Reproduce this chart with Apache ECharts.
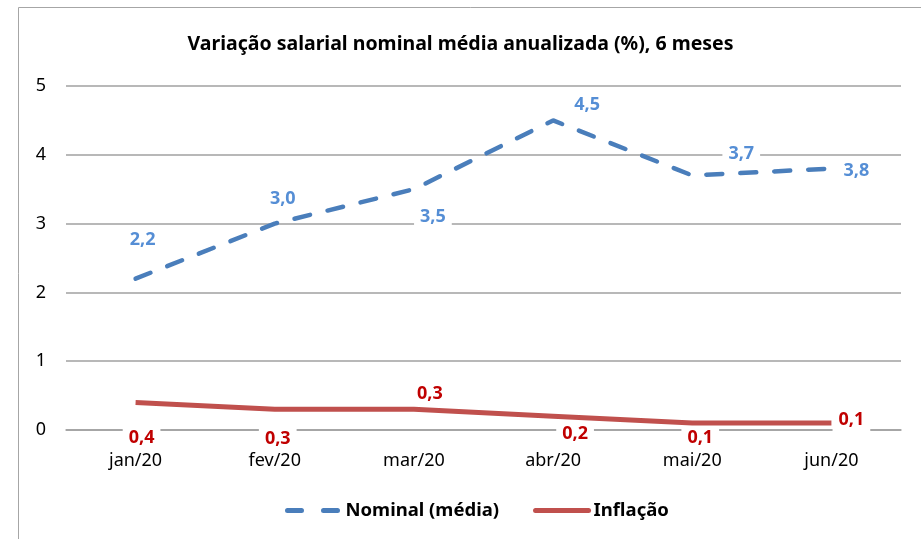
<!DOCTYPE html>
<html>
<head>
<meta charset="utf-8">
<script src="https://cdn.jsdelivr.net/npm/echarts@6/dist/echarts.min.js"></script>
<style>
  html, body { margin: 0; padding: 0; background: #fff; }
  #chart { width: 921px; height: 539px; }
</style>
</head>
<body>
<div id="chart"></div>
<script>
// dados
const meses = ['jan/20', 'fev/20', 'mar/20', 'abr/20', 'mai/20', 'jun/20']
const nominal = [2.2, 3.0, 3.5, 4.5, 3.7, 3.8]
const inflacao = [0.4, 0.3, 0.3, 0.2, 0.1, 0.1]

// deslocamento dos rótulos (px) em relação ao ponto
const offNominal = [[7, -39], [8, -25], [19, 28], [34, -16], [49, -22], [25, 2]]
const offInflacao = [[6, 35], [3, 30], [16, -15], [22, 18], [8, 15], [20, -3]]

const fonte = 'Noto Sans'
const chart = echarts.init(document.getElementById('chart'))

function comRotulos (valores, offsets) {
  return valores.map((v, i) => ({
    value: v,
    label: { offset: offsets[i] }
  }))
}

function rotulo (cor) {
  return {
    show: true,
    position: 'inside',
    fontFamily: fonte,
    fontWeight: 'bold',
    fontSize: 18,
    color: cor,
    backgroundColor: '#fff',
    padding: [2, 6],
    formatter: (p) => p.value.toFixed(1).replace('.', ',')
  }
}

chart.setOption({
  animation: false,
  title: {
    text: 'Variação salarial nominal média anualizada (%), 6 meses',
    left: 'center',
    top: 29,
    textStyle: { fontFamily: fonte, fontWeight: 'bold', fontSize: 19.5, color: '#000' }
  },
  graphic: [{
    type: 'rect',
    shape: { x: 18.5, y: 7.5, width: 940, height: 600 },
    style: { fill: 'none', stroke: '#a6a6a6', lineWidth: 1 },
    silent: true
  }],
  grid: { left: 66, right: 20, top: 86, bottom: 109 },
  legend: {
    bottom: 14,
    left: 280,
    itemWidth: 53,
    itemHeight: 12,
    itemGap: 34,
    itemStyle: { opacity: 0 },
    lineStyle: { width: 5, cap: 'round' },
    textStyle: { fontFamily: fonte, fontWeight: 'bold', fontSize: 18.5, color: '#000' },
    data: [
      { name: 'Nominal (média)', lineStyle: { type: [14, 22] } },
      { name: 'Inflação', lineStyle: { type: 'solid' } }
    ]
  },
  xAxis: {
    type: 'category',
    data: meses,
    boundaryGap: true,
    axisLine: { lineStyle: { color: '#a0a0a0', width: 1.5 } },
    axisTick: { show: false },
    axisLabel: { fontFamily: fonte, fontSize: 18, color: '#000', margin: 22 }
  },
  yAxis: {
    type: 'value',
    min: 0,
    max: 5,
    interval: 1,
    axisLine: { show: false },
    axisTick: { show: false },
    axisLabel: { fontFamily: fonte, fontSize: 18, color: '#000', margin: 20 },
    splitLine: { lineStyle: { color: '#a0a0a0', width: 1.5 } }
  },
  series: [
    {
      name: 'Nominal (média)',
      type: 'line',
      symbol: 'circle',
      symbolSize: 0.01,
      showSymbol: true,
      z: 3,
      lineStyle: { color: '#4a7ebb', width: 4.5, type: [16, 18], cap: 'round' },
      itemStyle: { color: '#4a7ebb' },
      label: rotulo('#558ed5'),
      data: comRotulos(nominal, offNominal)
    },
    {
      name: 'Inflação',
      type: 'line',
      symbol: 'circle',
      symbolSize: 0.01,
      showSymbol: true,
      z: 3,
      lineStyle: { color: '#c0504d', width: 5 },
      itemStyle: { color: '#c0504d' },
      label: rotulo('#c00000'),
      data: comRotulos(inflacao, offInflacao)
    }
  ]
})
</script>
</body>
</html>
